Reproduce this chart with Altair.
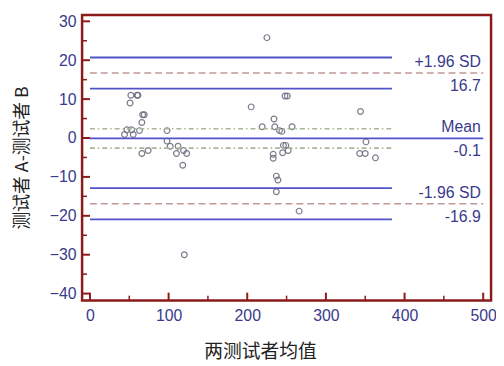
import altair as alt
import pandas as pd

# Bland-Altman data: mean of two raters (x) vs difference A-B (y)
mean_x = [44, 47, 53, 55, 63, 52, 60, 61, 51, 67, 69, 66, 66, 74, 98, 98, 102, 112, 110, 119, 123, 118, 120,
          225, 248, 251, 205, 234, 219, 235, 241, 244, 257, 246, 249, 252, 245, 233, 233, 237, 239, 237, 266,
          344, 351, 343, 350, 363]
diff_y = [0.9, 2.1, 2.1, 0.9, 1.9, 11, 11, 11, 9, 6, 6, 4, -4, -3.2, 1.9, -0.8, -2.1, -2.1, -4, -3.2, -4, -7, -30,
          25.8, 10.8, 10.8, 8.0, 4.9, 2.9, 2.9, 1.9, 1.7, 2.9, -1.9, -1.9, -3.2, -3.8, -4.2, -5.2, -9.8, -10.8, -13.8, -18.8,
          6.8, -1.0, -4, -4, -5.1]

# reference lines
solid_y = [20.7, 12.7, -0.1, -12.9, -20.9]
solid_x2 = [384, 384, 500, 384, 384]
dashed_y = [16.7, -16.9]
dashdot_y = [2.4, -2.6]
line_start = 0
dashed_end = 500
dashdot_end = 384

label_text = ["+1.96 SD", "16.7", "Mean", "-0.1", "-1.96 SD", "-16.9"]
label_y = [16.7, 16.7, -0.1, -0.1, -16.9, -16.9]
label_pos = ["above", "below", "above", "below", "above", "below"]
label_x = 497

y_major = [-40, -30, -20, -10, 0, 10, 20, 30]
y_minor = [-35, -25, -15, -5, 5, 15, 25]
x_major = [0, 100, 200, 300, 400, 500]
x_minor = [50, 150, 250, 350, 450]

RED = "#8b1a1a"
BLUE = "#5252c8"
LABEL = "#3a3a8c"

W, H = 414, 289
xs = alt.Scale(domain=[-10, 510], nice=False, zero=False)
ys = alt.Scale(domain=[-41.8, 31.6], nice=False, zero=False)

pts = pd.DataFrame({"x": mean_x, "y": diff_y})
solid = pd.DataFrame({"y": solid_y, "x": [line_start] * len(solid_y), "x2": solid_x2})
dashed = pd.DataFrame({"y": dashed_y, "x": [line_start] * 2, "x2": [dashed_end] * 2})
dashdot = pd.DataFrame({"y": dashdot_y, "x": [line_start] * 2, "x2": [dashdot_end] * 2})
labels = pd.DataFrame({"t": label_text, "y": label_y, "pos": label_pos, "x": [label_x] * len(label_text)})

x_axis = alt.Axis(values=x_major, ticks=False, domain=False, grid=False, labelPadding=7,
                  labelFontSize=16, labelColor=LABEL, labelFont="Liberation Sans",
                  title="两测试者均值", titleFont="Noto Sans CJK SC", titleFontSize=19,
                  titleFontWeight="normal", titleColor="#222222", titleX=180, titleY=52,
                  titleBaseline="middle", titleAnchor="start", titleAlign="center")
y_axis = alt.Axis(values=y_major, ticks=False, domain=False, grid=False, labelPadding=6,
                  labelFontSize=16, labelColor=LABEL, labelFont="Liberation Sans",
                  title="测试者 A-测试者 B", titleFont="Noto Sans CJK SC", titleFontSize=18,
                  titleFontWeight="normal", titleColor="#222222", titleX=-60, titleY=144,
                  titleAngle=270, titleBaseline="middle", titleAlign="center", titleAnchor="start")

base_pts = alt.Chart(pts).mark_point(shape="circle", filled=False, size=34, color="#6e6e80",
                                     strokeWidth=1.2, opacity=0.9).encode(
    x=alt.X("x:Q", scale=xs, axis=x_axis),
    y=alt.Y("y:Q", scale=ys, axis=y_axis),
)

solid_l = alt.Chart(solid).mark_rule(color=BLUE, strokeWidth=1.8).encode(
    x=alt.X("x:Q", scale=xs), x2="x2:Q", y=alt.Y("y:Q", scale=ys))
dashed_l = alt.Chart(dashed).mark_rule(color="#c09898", strokeWidth=1.6, strokeDash=[7, 4]).encode(
    x=alt.X("x:Q", scale=xs), x2="x2:Q", y=alt.Y("y:Q", scale=ys))
dashdot_l = alt.Chart(dashdot).mark_rule(color="#a6b896", strokeWidth=1.6, strokeDash=[5, 3, 1.5, 3]).encode(
    x=alt.X("x:Q", scale=xs), x2="x2:Q", y=alt.Y("y:Q", scale=ys))

lab_above = alt.Chart(labels).transform_filter(alt.datum.pos == "above").mark_text(
    align="right", baseline="alphabetic", dy=-6, fontSize=16, font="Liberation Sans", color=LABEL).encode(
    x=alt.X("x:Q", scale=xs), y=alt.Y("y:Q", scale=ys), text="t:N")
lab_below = alt.Chart(labels).transform_filter(alt.datum.pos == "below").mark_text(
    align="right", baseline="alphabetic", dy=18, fontSize=16, font="Liberation Sans", color=LABEL).encode(
    x=alt.X("x:Q", scale=xs), y=alt.Y("y:Q", scale=ys), text="t:N")

# inward ticks
ytm = alt.Chart(pd.DataFrame({"v": y_major})).mark_rule(color=RED, strokeWidth=2).encode(
    y=alt.Y("v:Q", scale=ys), x=alt.value(0), x2=alt.value(8))
ytn = alt.Chart(pd.DataFrame({"v": y_minor})).mark_rule(color=RED, strokeWidth=1.5).encode(
    y=alt.Y("v:Q", scale=ys), x=alt.value(0), x2=alt.value(5))
xtm = alt.Chart(pd.DataFrame({"v": x_major})).mark_rule(color=RED, strokeWidth=2).encode(
    x=alt.X("v:Q", scale=xs), y=alt.value(H), y2=alt.value(H - 8))
xtn = alt.Chart(pd.DataFrame({"v": x_minor})).mark_rule(color=RED, strokeWidth=1.5).encode(
    x=alt.X("v:Q", scale=xs), y=alt.value(H), y2=alt.value(H - 5))

chart = alt.layer(base_pts, dashdot_l, dashed_l, solid_l, lab_above, lab_below, ytm, ytn, xtm, xtn).properties(
    width=W, height=H,
    autosize=alt.AutoSizeParams(type="none"),
    padding={"left": 75, "top": 5, "right": 5, "bottom": 62},
    background="white",
).configure_view(stroke=RED, strokeWidth=2.5)

chart.save("out.html", embed_options={"renderer": "svg", "actions": False})
